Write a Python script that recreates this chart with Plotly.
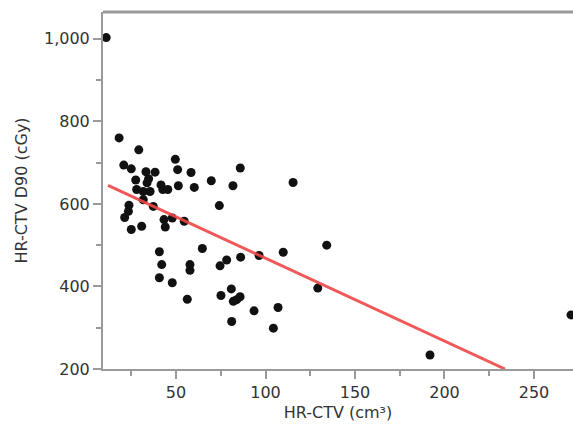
import plotly.graph_objects as go

# Scatter data: HR-CTV volume (cm³) vs HR-CTV D90 (cGy)
hr_ctv = [11, 18.2, 29.2, 20.8, 25.0, 49.6, 50.9, 33.2, 38.3, 58.4, 85.9, 27.5, 34.7,
          33.8, 69.7, 115.4, 51.3, 60.2, 81.8, 41.6, 42.6, 45.4, 31.7, 35.5, 28.0,
          31.7, 37.3, 74.2, 23.7, 23.4, 21.3, 25.0, 30.8, 43.3, 44.0, 47.9, 54.6,
          64.7, 40.7, 42.0, 40.7, 47.9, 57.8, 57.8, 56.3, 74.6, 78.3, 86.1, 96.4,
          109.9, 134.2, 129.2, 75.1, 80.9, 82.0, 83.9, 85.8, 81.1, 93.6, 107.0,
          104.4, 191.9, 270.7]
d90 = [1003, 760, 731, 694, 685, 708, 683, 678, 677, 676, 687, 658, 661,
       651, 656, 652, 644, 640, 644, 646, 635, 635, 630, 630, 635,
       610, 594, 596, 597, 582, 567, 538, 546, 562, 544, 566, 558,
       492, 484, 453, 421, 409, 453, 439, 369, 450, 464, 471, 475,
       483, 500, 396, 378, 394, 364, 368, 375, 315, 341, 349,
       299, 234, 331]

# Regression line endpoints
fit_x = [12, 233.8]
fit_y = [645, 200]

x_ticks = [50, 100, 150, 200, 250]
y_ticks = [200, 400, 600, 800, 1000]
y_tick_labels = ["200", "400", "600", "800", "1,000"]

fig = go.Figure()
fig.add_trace(go.Scatter(x=hr_ctv, y=d90, mode="markers",
                         marker=dict(color="#111111", size=9), showlegend=False))
fig.add_trace(go.Scatter(x=fit_x, y=fit_y, mode="lines",
                         line=dict(color="rgba(240,70,70,0.9)", width=3), showlegend=False))

axis_common = dict(showgrid=False, zeroline=False, showline=True, linecolor="#9a9a9a",
                   linewidth=2, ticks="outside", tickcolor="#9a9a9a",
                   ticklen=8, tickwidth=1.5,
                   tickfont=dict(family="DejaVu Sans", size=16, color="#333333"))

fig.update_xaxes(range=[9.2, 271.8], tickvals=x_ticks,
                 minor=dict(dtick=25, tick0=0, ticks="outside", ticklen=5, tickcolor="#9a9a9a"),
                 title=dict(text="HR-CTV (cm³)", font=dict(family="DejaVu Sans", size=16, color="#333333"),
                            standoff=6),
                 **axis_common)
fig.update_yaxes(range=[200, 1065], tickvals=y_ticks, ticktext=y_tick_labels,
                 minor=dict(dtick=100, tick0=0, ticks="outside", ticklen=5, tickcolor="#9a9a9a"),
                 title=dict(text="HR-CTV D90 (cGy)", font=dict(family="DejaVu Sans", size=16, color="#333333"),
                            standoff=12),
                 **axis_common)

# top frame line
fig.add_shape(type="line", xref="paper", yref="paper", x0=0, x1=1, y0=1, y1=1,
              layer="above", line=dict(color="#9a9a9a", width=3))

fig.update_layout(width=573, height=429, margin=dict(l=103, r=0, t=12, b=60),
                  plot_bgcolor="white", paper_bgcolor="white")

fig.write_html("out.html", config={"displayModeBar": False},
               post_script="document.body.style.margin='0';document.body.style.overflow='hidden';")
